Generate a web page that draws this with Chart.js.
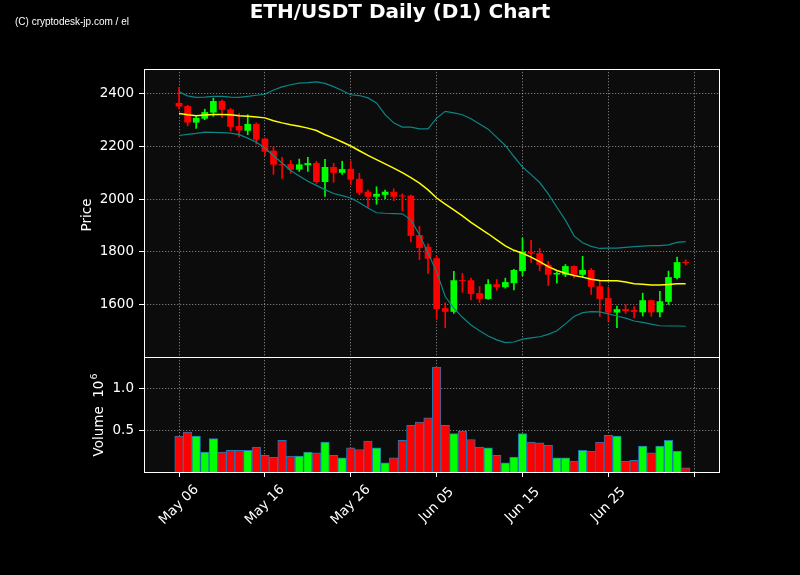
<!DOCTYPE html>
<html lang="en">
<head>
<meta charset="UTF-8">
<title>ETH/USDT Daily (D1) Chart</title>
<script src="https://cdn.jsdelivr.net/npm/chart.js"></script>
<style>
    html, body {
        margin: 0;
        background: #000;
    }
    #wrap {
        width: 800px;
        height: 575px;
    }
</style>
</head>
<body>
<div id="wrap"><canvas id="chart" width="800" height="575"></canvas></div>
<script>
// daily candles, May 06 .. Jul 04 (index 0 = May 06)
const openP  = [2366,2354,2291,2306,2329,2373,2341,2278,2260,2286,2230,2184,2133,2133,2112,2129,2137,2065,2122,2100,
                2115,2077,2028,2009,2016,2028,2013,2013,1863,1818,1775,1585,1571,1691,1691,1642,1620,1676,1665,1680,
                1726,1798,1794,1750,1713,1712,1745,1712,1730,1668,1623,1568,1581,1578,1569,1615,1569,1609,1700,1761];
const highP  = [2425,2357,2317,2342,2384,2377,2345,2326,2321,2290,2232,2199,2159,2147,2152,2159,2144,2151,2136,2144,
                2145,2098,2034,2047,2034,2039,2020,2015,1896,1830,1784,1605,1725,1717,1699,1667,1694,1694,1699,1733,
                1851,1843,1812,1763,1723,1751,1746,1782,1736,1689,1664,1593,1599,1591,1642,1616,1649,1726,1779,1769];
const lowP   = [2343,2279,2269,2302,2315,2310,2260,2237,2245,2209,2165,2094,2079,2098,2105,2105,2060,2010,2064,2094,
                2055,2016,1968,1980,2002,1994,1955,1837,1770,1717,1542,1510,1565,1645,1616,1606,1618,1653,1661,1654,
                1708,1759,1727,1671,1680,1705,1700,1702,1637,1553,1535,1511,1565,1548,1555,1554,1552,1599,1696,1749];
const closeP = [2352,2291,2309,2331,2373,2340,2275,2261,2286,2226,2180,2131,2129,2112,2132,2137,2065,2122,2100,2114,
                2074,2024,2009,2020,2028,2009,2010,1860,1814,1773,1582,1571,1691,1688,1639,1620,1676,1665,1684,1730,
                1800,1792,1750,1712,1719,1745,1712,1730,1666,1620,1568,1581,1574,1571,1615,1569,1611,1703,1760,1757];

// volume in units of 10^6
const volumeM = [0.43,0.48,0.43,0.24,0.40,0.24,0.26,0.26,0.26,0.30,0.20,0.18,0.38,0.19,0.19,0.24,0.23,0.36,0.20,0.17,
                 0.29,0.27,0.37,0.29,0.11,0.17,0.38,0.56,0.60,0.65,1.26,0.56,0.46,0.49,0.39,0.30,0.29,0.20,0.11,0.18,
                 0.46,0.36,0.35,0.32,0.17,0.17,0.13,0.26,0.25,0.36,0.44,0.43,0.13,0.14,0.31,0.23,0.31,0.38,0.25,0.05];

// 20 day moving average and bollinger bands
const maLine = [2326,2321,2317,2320,2322,2322,2321,2317,2315,2312,2309,2298,2290,2283,2277,2270,2261,2245,2232,2217,
                2202,2184,2166,2150,2134,2118,2101,2082,2061,2035,2004,1981,1959,1936,1911,1889,1868,1845,1822,1805,
                1794,1779,1762,1743,1728,1718,1709,1703,1695,1690,1689,1689,1684,1678,1676,1673,1673,1675,1678,1678];
const upperBand = [2408,2393,2387,2388,2391,2391,2388,2387,2391,2395,2399,2415,2427,2435,2441,2443,2446,2440,2428,2413,
                   2397,2394,2385,2366,2321,2290,2274,2274,2267,2267,2308,2334,2328,2321,2306,2286,2266,2235,2204,2162,
                   2122,2093,2063,2020,1969,1920,1860,1834,1820,1812,1813,1813,1816,1819,1821,1823,1823,1826,1835,1838];
const lowerBand = [2242,2246,2250,2255,2254,2253,2251,2245,2232,2216,2194,2165,2137,2109,2088,2068,2052,2036,2021,2013,
                   2004,1986,1966,1948,1946,1945,1944,1921,1864,1795,1723,1629,1585,1550,1521,1499,1479,1464,1454,1456,
                   1467,1472,1476,1485,1499,1525,1553,1568,1572,1571,1563,1555,1547,1536,1531,1524,1518,1517,1517,1516];

const xTickDays = [0, 10, 20, 30, 40, 50, 60];
const xTickLabels = ['May 06', 'May 16', 'May 26', 'Jun 05', 'Jun 15', 'Jun 25', ''];
const priceTicks = [1600, 1800, 2000, 2200, 2400];
const volumeTicks = [0.5, 1.0];

const UP = '#00ff00', DOWN = '#ff0000';
const candleColors = openP.map((o, i) => closeP[i] >= o ? UP : DOWN);
const days = openP.map((_, i) => i);

const gridColor = 'rgba(255,255,255,0.55)';
const tickFont = { family: 'DejaVu Sans', size: 13.5 };

function axisGrid() {
    return {
        offset: false,
        color: gridColor,
        lineWidth: 0.8,
        tickColor: '#fff',
        tickLength: 5,
        tickWidth: 1
    };
}

const decor = {
    id: 'decor',
    beforeDraw(chart) {
        const { ctx, chartArea: a } = chart;
        ctx.save();
        ctx.fillStyle = '#000';
        ctx.fillRect(0, 0, chart.width, chart.height);
        ctx.fillStyle = '#0c0c0c';
        ctx.fillRect(a.left, a.top, a.right - a.left, a.bottom - a.top);
        ctx.restore();
    },
    afterDraw(chart) {
        const { ctx, chartArea: a, scales } = chart;
        ctx.save();

        // panel frames
        ctx.strokeStyle = '#fff';
        ctx.lineWidth = 1;
        [scales.y, scales.yv].forEach(s => {
            ctx.strokeRect(a.left + 0.5, s.top + 0.5, a.right - a.left - 1, s.bottom - s.top);
        });

        // rotated date labels, centred on their ticks
        ctx.fillStyle = '#fff';
        ctx.font = '13.5px "DejaVu Sans"';
        ctx.textAlign = 'center';
        ctx.textBaseline = 'middle';
        xTickDays.forEach((d, i) => {
            const x = scales.x.getPixelForValue(d);
            ctx.save();
            ctx.translate(x, a.bottom + 33);
            ctx.rotate(-Math.PI / 4);
            ctx.fillText(xTickLabels[i], 0, 0);
            ctx.restore();
        });

        // axis titles
        ctx.save();
        ctx.translate(91, (scales.y.top + scales.y.bottom) / 2 + 2);
        ctx.rotate(-Math.PI / 2);
        ctx.textBaseline = 'alphabetic';
        ctx.fillText('Price', 0, 0);
        ctx.restore();

        ctx.save();
        ctx.translate(103, 415);
        ctx.rotate(-Math.PI / 2);
        ctx.textAlign = 'left';
        ctx.textBaseline = 'alphabetic';
        const main = 'Volume  10';
        ctx.font = '13.5px "DejaVu Sans"';
        const w1 = ctx.measureText(main).width;
        ctx.font = '9.5px "DejaVu Sans"';
        const w2 = ctx.measureText('6').width;
        const start = -(w1 + w2 + 1) / 2;
        ctx.font = '13.5px "DejaVu Sans"';
        ctx.fillText(main, start, 0);
        ctx.font = '9.5px "DejaVu Sans"';
        ctx.fillText('6', start + w1 + 1, -6.5);
        ctx.restore();

        // title and credit
        ctx.font = 'bold 20px "DejaVu Sans"';
        ctx.textAlign = 'center';
        ctx.textBaseline = 'alphabetic';
        ctx.fillText('ETH/USDT Daily (D1) Chart', 400, 18);

        ctx.font = '10px "Liberation Sans"';
        ctx.textAlign = 'left';
        ctx.fillText('(C) cryptodesk-jp.com / el', 15, 25);

        ctx.restore();
    }
};

new Chart(document.getElementById('chart'), {
    type: 'bar',
    data: {
        datasets: [
            {
                type: 'line', label: 'MA20', yAxisID: 'y', order: 0,
                data: days.map(i => ({ x: i, y: maLine[i] })),
                borderColor: '#ffff00', borderWidth: 1.5, pointRadius: 0, tension: 0
            },
            {
                type: 'line', label: 'Upper', yAxisID: 'y', order: 0,
                data: days.map(i => ({ x: i, y: upperBand[i] })),
                borderColor: '#0b8585', borderWidth: 1.2, pointRadius: 0, tension: 0
            },
            {
                type: 'line', label: 'Lower', yAxisID: 'y', order: 0,
                data: days.map(i => ({ x: i, y: lowerBand[i] })),
                borderColor: '#0b8585', borderWidth: 1.2, pointRadius: 0, tension: 0
            },
            {
                label: 'Body', yAxisID: 'y', order: 1, grouped: false,
                data: days.map(i => ({ x: i, y: [openP[i], closeP[i]] })),
                backgroundColor: candleColors, borderWidth: 0,
                categoryPercentage: 1, barPercentage: 0.78, minBarLength: 1
            },
            {
                label: 'Wick', yAxisID: 'y', order: 2, grouped: false,
                data: days.map(i => ({ x: i, y: [lowP[i], highP[i]] })),
                backgroundColor: candleColors, borderWidth: 0, barThickness: 1
            },
            {
                label: 'Volume', yAxisID: 'yv', order: 3, grouped: false,
                data: days.map(i => ({ x: i, y: volumeM[i] })),
                backgroundColor: candleColors, borderColor: '#1f77b4', borderWidth: 1,
                categoryPercentage: 1, barPercentage: 1
            }
        ]
    },
    options: {
        responsive: false,
        animation: false,
        layout: { padding: { top: 69, right: 80, bottom: 0, left: 0 } },
        plugins: {
            legend: { display: false },
            tooltip: { enabled: false }
        },
        scales: {
            x: {
                type: 'linear',
                offset: false,
                min: -4.08,
                max: 63,
                afterBuildTicks: s => { s.ticks = xTickDays.map(v => ({ value: v })); },
                afterFit: s => { s.height = 103; },
                ticks: { display: false },
                grid: axisGrid(),
                border: { display: false, dash: [1.3, 1.7] }
            },
            y: {
                type: 'linear',
                position: 'left',
                stack: 'panels',
                stackWeight: 288,
                weight: 2,
                min: 1399,
                max: 2495,
                afterBuildTicks: s => { s.ticks = priceTicks.map(v => ({ value: v })); },
                afterFit: s => { s.width = 144; },
                ticks: { color: '#fff', font: tickFont, padding: 5, callback: v => String(v) },
                grid: axisGrid(),
                border: { display: false, dash: [1.3, 1.7] }
            },
            yv: {
                type: 'linear',
                position: 'left',
                stack: 'panels',
                stackWeight: 115,
                weight: 1,
                min: 0,
                max: 1.38,
                afterBuildTicks: s => { s.ticks = volumeTicks.map(v => ({ value: v })); },
                afterFit: s => { s.width = 144; },
                ticks: { color: '#fff', font: tickFont, padding: 5, callback: v => v.toFixed(1) },
                grid: axisGrid(),
                border: { display: false, dash: [1.3, 1.7] }
            }
        }
    },
    plugins: [decor]
});
</script>
</body>
</html>
